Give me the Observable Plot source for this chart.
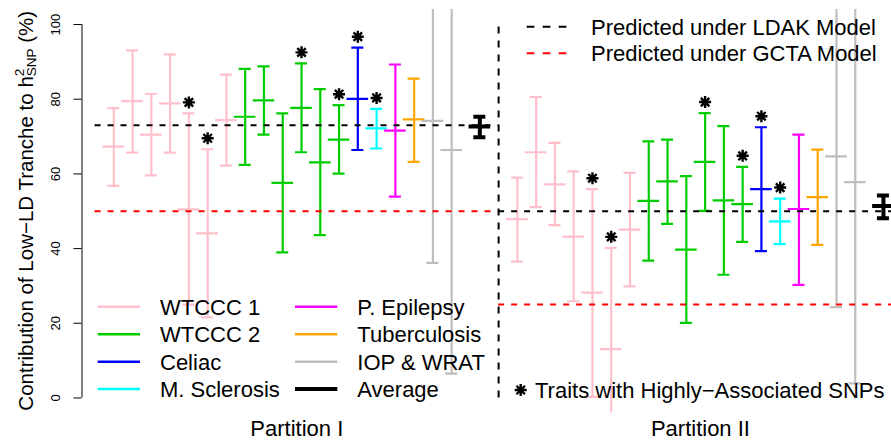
<!DOCTYPE html>
<html>
<head>
<meta charset="utf-8">
<script src="https://cdn.jsdelivr.net/npm/d3@7"></script>
<script src="https://cdn.jsdelivr.net/npm/@observablehq/plot@0.6"></script>
<style>
  body { margin: 0; background: #fff; }
  #chart { position: relative; width: 891px; height: 447px; }
  svg { font-family: "Liberation Sans", Arial, sans-serif; }
</style>
</head>
<body>
<div id="chart"></div>
<script>
// ---------------- data ----------------
const partitions = ["Partition I", "Partition II"];
const ldakLevel = [73, 50];          // predicted under LDAK model (%)
const gctaLevel = [50, 25];          // predicted under GCTA model (%)

const traitGroups = [
  "WTCCC 1","WTCCC 1","WTCCC 1","WTCCC 1","WTCCC 1","WTCCC 1","WTCCC 1",
  "WTCCC 2","WTCCC 2","WTCCC 2","WTCCC 2","WTCCC 2","WTCCC 2",
  "Celiac","M. Sclerosis","P. Epilepsy","Tuberculosis","IOP & WRAT","IOP & WRAT"
];
const highlyAssociated = [0,0,0,0,1,1,0, 0,0,0,1,0,1, 1,1,0,0,0,0];

// Partition I
const p1Mid = [67.3, 79.5, 70.5, 78.9, 50.5, 44.1, 74.4, 75.3, 79.7, 57.6, 77.7, 63.1, 69.2, 80.1, 72.2, 71.6, 74.6, 74.2, 66.4];
const p1Lo  = [56.8, 65.7, 59.6, 65.7, 25.0, 21.6, 62.2, 62.4, 70.5, 39.0, 65.8, 43.6, 60.1, 66.4, 66.8, 53.9, 63.2, 36.2, 6.5];
const p1Hi  = [77.6, 93.1, 81.4, 92.0, 76.2, 66.6, 86.6, 88.1, 88.8, 76.2, 89.6, 82.7, 78.4, 93.8, 77.4, 89.3, 85.5, 112, 125];
// Partition II
const p2Mid = [47.9, 65.8, 57.2, 43.2, 28.2, 13.1, 45.1, 52.8, 58.0, 39.7, 63.2, 52.9, 51.9, 55.9, 47.3, 50.6, 53.8, 64.7, 57.8];
const p2Lo  = [36.5, 51.1, 46.3, 25.9, 0.3, -10, 29.9, 36.8, 46.6, 20.1, 50.1, 33.0, 41.8, 39.3, 41.2, 30.3, 41.0, 24.3, 3.9];
const p2Hi  = [59.0, 80.6, 68.3, 60.7, 55.9, 40.2, 60.3, 68.7, 69.2, 59.4, 76.3, 72.8, 61.9, 72.5, 53.4, 70.5, 66.5, 115, 120];

// Averages [lo, mid, hi]
const avgLo  = [69.8, 48.1];
const avgMid = [72.7, 51.4];
const avgHi  = [75.3, 54.2];

const legendNames  = ["WTCCC 1","WTCCC 2","Celiac","M. Sclerosis","P. Epilepsy","Tuberculosis","IOP & WRAT","Average"];
const legendColors = ["#FFC0CB","#00CD00","#0000FF","#00FFFF","#FF00FF","#FFA500","#BEBEBE","#000000"];
const refLegend = ["Predicted under LDAK Model", "Predicted under GCTA Model"];
const starLegend = "Traits with Highly\u2212Associated SNPs";
const yTicks = [0, 20, 40, 60, 80, 100];

// ---------------- layout ----------------
const W = 891, H = 447;
const mL = 81.5, mR = 0, mT = 9.1, mB = 447 - 412.4;
const xDom = [-0.694, 42.43];
const ppu = (W - mL - mR) / (xDom[1] - xDom[0]);
const capHalf = 6 / ppu, midHalf = 10.8 / ppu;
const offsets = [1, 22.5];           // first bar slot of each partition
const avgSlot = [20.5, 42];
const divider = 21.5;

const rows = [];
[[p1Lo, p1Mid, p1Hi], [p2Lo, p2Mid, p2Hi]].forEach(([lo, mid, hi], p) => {
  mid.forEach((m, i) => rows.push({
    part: p, pos: offsets[p] + i, lo: lo[i], mid: m, hi: hi[i],
    group: traitGroups[i], star: highlyAssociated[i] === 1
  }));
});
const avgRows = partitions.map((name, p) => ({pos: avgSlot[p], lo: avgLo[p], mid: avgMid[p], hi: avgHi[p]}));
const refRows = partitions.map((name, p) => ({
  name, ldak: ldakLevel[p], gcta: gctaLevel[p],
  x1: p === 0 ? 0 : divider, x2: p === 0 ? divider : 44,
  center: p === 0 ? (1 + avgSlot[0]) / 2 : (offsets[1] + avgSlot[1]) / 2
}));

// R pch 8 star
const pch8 = {
  draw(ctx, size) {
    const r = Math.sqrt(size / Math.PI), d = r * Math.SQRT1_2;
    ctx.moveTo(-r, 0); ctx.lineTo(r, 0);
    ctx.moveTo(0, -r); ctx.lineTo(0, r);
    ctx.moveTo(-d, -d); ctx.lineTo(d, d);
    ctx.moveTo(-d, d); ctx.lineTo(d, -d);
  }
};

const lw = 2.2;
const dash = "6,7";
const starR = 6;

const plot = Plot.plot({
  width: W, height: H,
  marginLeft: mL, marginRight: mR, marginTop: mT, marginBottom: mB,
  style: {fontFamily: "Liberation Sans, Arial, sans-serif", background: "white", overflow: "visible"},
  x: {domain: xDom, axis: null},
  y: {domain: [-4, 104], axis: null},
  color: {domain: legendNames, range: legendColors},
  marks: [
    // y axis
    Plot.ruleX([xDom[0]], {y1: 0, y2: 100, stroke: "#000", strokeWidth: 1}),
    Plot.ruleY(yTicks, {y: d => d, x1: xDom[0] - 8 / ppu, x2: xDom[0], stroke: "#000", strokeWidth: 1}),
    Plot.text(yTicks, {x: xDom[0], y: d => d, text: d => String(d), rotate: -90, dx: -26, fontSize: 13, fill: "#000"}),
    // error bars
    Plot.ruleX(rows, {x: "pos", y1: "lo", y2: "hi", stroke: "group", strokeWidth: lw, clip: true}),
    Plot.ruleY(rows, {y: "hi", x1: d => d.pos - capHalf, x2: d => d.pos + capHalf, stroke: "group", strokeWidth: lw, clip: true}),
    Plot.ruleY(rows, {y: "lo", x1: d => d.pos - capHalf, x2: d => d.pos + capHalf, stroke: "group", strokeWidth: lw, clip: true}),
    Plot.ruleY(rows, {y: "mid", x1: d => d.pos - midHalf, x2: d => d.pos + midHalf, stroke: "group", strokeWidth: lw, clip: true}),
    // averages
    Plot.ruleX(avgRows, {x: "pos", y1: "lo", y2: "hi", stroke: "#000", strokeWidth: 4, clip: true}),
    Plot.ruleY(avgRows, {y: "hi", x1: d => d.pos - capHalf, x2: d => d.pos + capHalf, stroke: "#000", strokeWidth: 4, clip: true}),
    Plot.ruleY(avgRows, {y: "lo", x1: d => d.pos - capHalf, x2: d => d.pos + capHalf, stroke: "#000", strokeWidth: 4, clip: true}),
    Plot.ruleY(avgRows, {y: "mid", x1: d => d.pos - midHalf, x2: d => d.pos + midHalf, stroke: "#000", strokeWidth: 4, clip: true}),
    // reference lines
    Plot.ruleY(refRows, {y: "ldak", x1: "x1", x2: "x2", stroke: "#000", strokeWidth: 2, strokeDasharray: dash, clip: true}),
    Plot.ruleY(refRows, {y: "gcta", x1: "x1", x2: "x2", stroke: "#FF0000", strokeWidth: 2, strokeDasharray: dash, clip: true}),
    Plot.ruleX([divider], {y1: 0, y2: 100, stroke: "#000", strokeWidth: 2, strokeDasharray: "7,7"}),
    // stars
    Plot.dot(rows.filter(d => d.star), {x: "pos", y: "hi", dy: -11, symbol: pch8, r: starR, stroke: "#000", strokeWidth: 2.4, fill: "none"}),
    // partition labels
    Plot.text(refRows, {x: "center", frameAnchor: "bottom", dy: 23, text: "name", fontSize: 22, fill: "#000"})
  ]
});

document.getElementById("chart").appendChild(plot);

// ---------- title and legends (text/lines placed in pixels) ----------
const svg = d3.select(plot);
const font = "Liberation Sans, Arial, sans-serif";

// y-axis title with h^2_SNP
const yt = svg.append("text")
  .attr("transform", `translate(33,${(mT + (H - mB)) / 2}) rotate(-90)`)
  .attr("text-anchor", "middle").attr("font-size", 20.5).attr("font-family", font).attr("fill", "#000");
yt.append("tspan").text("Contribution of Low\u2212LD Tranche to h");
yt.append("tspan").attr("font-size", 13.5).attr("dy", -9).text("2");
yt.append("tspan").attr("font-size", 13.5).attr("dx", -7.5).attr("dy", 12).text("SNP");
yt.append("tspan").attr("dy", -3).text(" (%)");

// group legend (bottom-left)
const legRowsY = [306.7, 334.3, 361.7, 389];
const cols = [{x1: 97.7, x2: 140, tx: 160}, {x1: 295, x2: 337.3, tx: 357.3}];
const lg = svg.append("g").attr("font-family", font).attr("font-size", 22).attr("text-anchor", "start");
legendNames.forEach((name, i) => {
  const c = cols[Math.floor(i / 4)], y = legRowsY[i % 4];
  lg.append("line").attr("x1", c.x1).attr("x2", c.x2).attr("y1", y).attr("y2", y)
    .attr("stroke", legendColors[i]).attr("stroke-width", name === "Average" ? 4 : 2.5);
  lg.append("text").attr("x", c.tx).attr("y", y).attr("dy", "0.36em").attr("fill", "#000").text(name);
});

// reference legend (top-right)
const refY = [26.7, 53.3];
const refCol = ["#000", "#FF0000"];
refLegend.forEach((name, i) => {
  lg.append("line").attr("x1", 526.7).attr("x2", 568.3).attr("y1", refY[i]).attr("y2", refY[i])
    .attr("stroke", refCol[i]).attr("stroke-width", 2).attr("stroke-dasharray", "7.7,8.3");
  lg.append("text").attr("x", 591).attr("y", refY[i]).attr("dy", "0.36em").attr("fill", "#000").text(name);
});

// star legend (bottom-right)
const starPath = d3.path(); pch8.draw(starPath, Math.PI * starR * starR);
lg.append("path").attr("d", starPath.toString()).attr("transform", "translate(520.7,390)")
  .attr("stroke", "#000").attr("stroke-width", 2.4).attr("fill", "none");
lg.append("text").attr("x", 535).attr("y", 390).attr("dy", "0.36em").attr("fill", "#000").text(starLegend);
</script>
</body>
</html>
